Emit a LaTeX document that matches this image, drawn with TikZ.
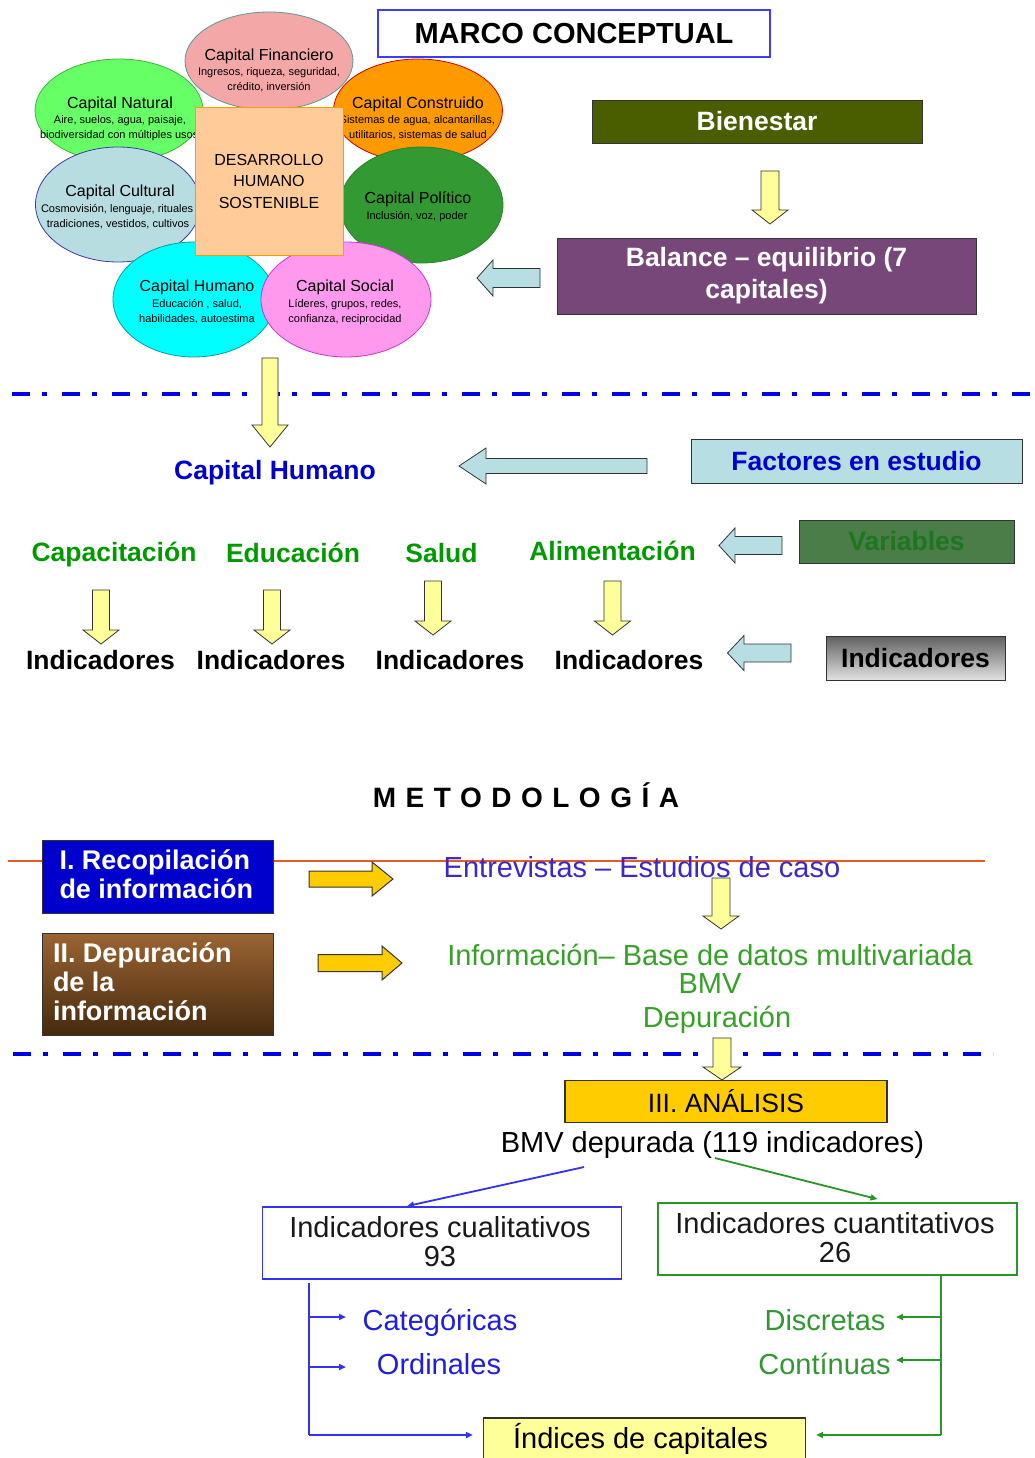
\documentclass[tikz,border=0pt]{standalone}
\usepackage{fontspec}
\setmainfont{Liberation Sans}
\newfontfamily\metofont[LetterSpace=34]{Liberation Sans}
\usetikzlibrary{shapes.geometric,arrows.meta}
\newcommand{\fsz}[2]{\fontsize{#1}{#2}\selectfont}
% block arrows
\newcommand{\blkdown}[7]{\draw[#1] ({#2-#5},#3) -- ({#2+#5},#3) -- ({#2+#5},{#4-#7}) -- ({#2+#6},{#4-#7}) -- (#2,#4) -- ({#2-#6},{#4-#7}) -- ({#2-#5},{#4-#7}) -- cycle;}
\newcommand{\blkleft}[7]{\draw[#1] (#2,#4) -- ({#2+#7},{#4-#6}) -- ({#2+#7},{#4-#5}) -- (#3,{#4-#5}) -- (#3,{#4+#5}) -- ({#2+#7},{#4+#5}) -- ({#2+#7},{#4+#6}) -- cycle;}
\newcommand{\blkright}[7]{\draw[#1] (#2,{#4-#5}) -- ({#3-#7},{#4-#5}) -- ({#3-#7},{#4-#6}) -- (#3,#4) -- ({#3-#7},{#4+#6}) -- ({#3-#7},{#4+#5}) -- (#2,{#4+#5}) -- cycle;}
\definecolor{finF}{RGB}{244,167,167}\definecolor{finD}{RGB}{90,150,150}
\definecolor{natF}{RGB}{102,255,102}\definecolor{natD}{RGB}{60,180,60}
\definecolor{conF}{RGB}{255,153,0}\definecolor{conD}{RGB}{204,0,0}
\definecolor{culF}{RGB}{183,221,225}\definecolor{culD}{RGB}{60,60,160}
\definecolor{polF}{RGB}{51,153,51}\definecolor{polD}{RGB}{40,130,40}
\definecolor{humF}{RGB}{0,255,255}\definecolor{humD}{RGB}{0,160,170}
\definecolor{socF}{RGB}{255,153,238}\definecolor{socD}{RGB}{204,51,204}
\definecolor{sqF}{RGB}{255,204,153}\definecolor{sqD}{RGB}{255,153,0}
\definecolor{titleD}{RGB}{60,60,255}
\definecolor{bienF}{RGB}{74,94,0}
\definecolor{balF}{RGB}{119,71,122}
\definecolor{lblue}{RGB}{183,222,227}
\definecolor{yel}{RGB}{255,255,153}
\definecolor{gold}{RGB}{255,204,0}
\definecolor{hblue}{RGB}{0,0,204}
\definecolor{vgreen}{RGB}{0,153,0}
\definecolor{varF}{RGB}{75,125,72}\definecolor{varT}{RGB}{30,118,30}
\definecolor{entB}{RGB}{60,40,200}
\definecolor{infG}{RGB}{55,160,40}
\definecolor{catB}{RGB}{30,30,220}
\definecolor{disG}{RGB}{50,150,50}
\definecolor{rline}{RGB}{230,90,40}
\definecolor{dblue}{RGB}{0,0,230}
\definecolor{boxIF}{RGB}{0,0,204}
\definecolor{brownT}{RGB}{155,100,50}\definecolor{brownB}{RGB}{70,42,15}
\definecolor{grT}{RGB}{96,96,96}\definecolor{grM}{RGB}{92,92,92}\definecolor{grB}{RGB}{225,225,225}
\definecolor{lineB}{RGB}{50,50,240}\definecolor{lineG}{RGB}{40,150,40}
\tikzset{
 txt/.style={inner sep=0, outer sep=0},
 ell/.style={ellipse, inner sep=0, line width=0.8},
 ttl/.style={font=\fsz{16}{18}},
 subt/.style={font=\fsz{11}{15}, align=center},
 yarrow/.style={fill=yel, draw=black!80, line width=0.8},
 garrow/.style={fill=gold, draw=black!80, line width=1},
 barrow/.style={fill=lblue, draw=black!80, line width=0.8},
 hbold/.style={font=\fsz{26.5}{30}\bfseries},
 lowtxt/.style={font=\fsz{29}{29}},
 dashline/.style={draw=dblue, line width=4, dash pattern=on 18pt off 12pt on 5pt off 15pt},
 bline/.style={draw=lineB, line width=1.8},
 gline/.style={draw=lineG, line width=1.8},
 tip/.style={-{Triangle[length=7pt,width=6pt]}},
}
\begin{document}
\begin{tikzpicture}[x=1pt,y=-1pt]
\useasboundingbox (0,0) rectangle (1034,1458);
\clip (0,0) rectangle (1034,1458);
\fill[white] (0,0) rectangle (1034,1458);

% ---------- ellipses ----------
\node[ell, fill=finF, draw=finD, minimum width=168, minimum height=98] (fin) at (269,61) {};
\node[txt, ttl, anchor=base] (finT) at (269,60.5) {Capital Financiero};
\node[txt, subt, anchor=base] (finS) at (269,91) {Ingresos, riqueza, seguridad,\\crédito, inversión};

\node[ell, fill=natF, draw=natD, minimum width=168, minimum height=103] (nat) at (119,110.5) {};
\node[txt, ttl, anchor=base] (natT) at (120,108.5) {Capital Natural};
\node[txt, subt, anchor=base] (natS1) at (120,124) {Aire, suelos, agua, paisaje,};
\node[txt, subt, anchor=base west] (natS2) at (40,139) {biodiversidad con múltiples usos};

\node[ell, fill=conF, draw=conD, minimum width=169, minimum height=103] (con) at (418,110.5) {};
\node[txt, ttl, anchor=base] (conT) at (418,108.5) {Capital Construido};
\node[txt, subt, anchor=base east] (conS1) at (495,124) {Sistemas de agua, alcantarillas,};
\node[txt, subt, anchor=base] (conS2) at (418,139) {utilitarios, sistemas de salud};

\node[ell, fill=culF, draw=culD, minimum width=165, minimum height=115] (cul) at (118,204.5) {};
\node[txt, ttl, anchor=base] (culT) at (120,196.5) {Capital Cultural};
\node[txt, subt, anchor=base west] (culS1) at (41,212) {Cosmovisión, lenguaje, rituales};
\node[txt, subt, anchor=base] (culS2) at (118,227) {tradiciones, vestidos, cultivos};

\node[ell, fill=polF, draw=polD, minimum width=163, minimum height=116] (pol) at (421.5,205) {};
\node[txt, ttl, anchor=base] (polT) at (418,203.5) {Capital Político};
\node[txt, subt, anchor=base] (polS) at (417,219) {Inclusión, voz, poder};

\node[ell, fill=humF, draw=humD, minimum width=162, minimum height=115] (hum) at (194,299.5) {};
\node[txt, ttl, anchor=base] (humT) at (197,291.5) {Capital Humano};
\node[txt, subt, anchor=base] (humS) at (197,322) {Educación , salud,\\habilidades, autoestima};

\node[ell, fill=socF, draw=socD, minimum width=170, minimum height=115] (soc) at (346,299.5) {};
\node[txt, ttl, anchor=base] (socT) at (345,291.5) {Capital Social};
\node[txt, subt, anchor=base] (socS) at (345,322) {Líderes, grupos, redes,\\confianza, reciprocidad};

\node[draw=sqD, fill=sqF, line width=0.8, minimum width=148, minimum height=148, align=center, font=\fsz{16}{21.5}] (dhs) at (269,181) {DESARROLLO\\HUMANO\\SOSTENIBLE};

% ---------- right top ----------
\node[draw=titleD, fill=white, line width=1.2, minimum width=392, minimum height=47, font=\fsz{29}{30}\bfseries] (mc) at (574,33.5) {MARCO CONCEPTUAL};
\node[draw=black!80, fill=bienF, text=white, minimum width=330, minimum height=43, hbold] (bien) at (757,121.5) {Bienestar};
\blkdown{yarrow}{770}{171}{224}{9}{18}{14}
\node[draw=black!80, fill=balF, text=white, minimum width=419, minimum height=76, align=center, font=\fsz{26.5}{32}\bfseries] (bal) at (766.5,276) {Balance – equilibrio (7\\capitales)};
\blkleft{barrow}{477}{540}{278}{9.5}{18}{16}

% ---------- separator 1 ----------
\draw[dashline] (12,393.5) -- (1034,393.5);
\blkdown{yarrow}{270}{358}{447}{8}{18}{22}

% ---------- factors ----------
\node[txt, hbold, text=hblue, anchor=base] (chum) at (275,479.5) {Capital Humano};
\blkleft{barrow}{459}{647}{466}{7.5}{18}{27}
\node[draw=black!80, fill=lblue, text=hblue, minimum width=331, minimum height=44, hbold] (fac) at (856.5,461) {Factores en estudio};

\node[txt, hbold, text=vgreen, anchor=base] (capa) at (114,561) {Capacitación};
\node[txt, hbold, text=vgreen, anchor=base] (edu) at (293,562) {Educación};
\node[txt, hbold, text=vgreen, anchor=base] (sal) at (441.5,562) {Salud};
\node[txt, hbold, text=vgreen, anchor=base] (ali) at (612.5,560.5) {Alimentación};
\blkleft{barrow}{719}{782}{545.5}{9}{17.5}{16}
\node[draw=black!80, fill=varF, text=varT, minimum width=215, minimum height=43, hbold] (var) at (906.5,541.5) {Variables};

\blkdown{yarrow}{101}{590}{644}{8.5}{18}{14}
\blkdown{yarrow}{272}{590}{644}{8.5}{18}{14}
\blkdown{yarrow}{433}{581}{635}{8.5}{18}{14}
\blkdown{yarrow}{612.5}{581}{635}{8.5}{18}{14}

\node[txt, hbold, anchor=base] (ind1) at (100.5,669.5) {Indicadores};
\node[txt, hbold, anchor=base] (ind2) at (271,669.5) {Indicadores};
\node[txt, hbold, anchor=base] (ind3) at (450,669.5) {Indicadores};
\node[txt, hbold, anchor=base] (ind4) at (629,669.5) {Indicadores};
\blkleft{barrow}{727.5}{791}{653}{9}{17.5}{16.5}
\node[draw=black!80, top color=grT, middle color=grM, bottom color=grB, minimum width=179, minimum height=44, hbold] (indb) at (915.5,658) {Indicadores};

% ---------- methodology ----------
\node[txt, font=\fsz{28}{30}\metofont\bfseries, anchor=base] (meto) at (526,807.5) {METODOLOGÍA};

\draw[draw=rline, line width=1.5] (8,861) -- (985,861);
\node[draw=black!80, fill=boxIF, line width=1, minimum width=231, minimum height=73] (b1) at (158,876.5) {};
\node[txt, text=white, font=\fsz{27}{29}\bfseries, align=left, anchor=base west] (b1T) at (59.5,898.5) {I. Recopilación\\de información};
\blkright{garrow}{309}{393}{879}{8}{17}{21}
\node[txt, lowtxt, text=entB, anchor=base] (ent) at (642,877) {Entrevistas – Estudios de caso};
\blkdown{yarrow}{721}{878}{929}{9}{18}{13}

\node[draw=black!80, top color=brownT, bottom color=brownB, line width=1, minimum width=231, minimum height=102] (b2) at (158,984) {};
\node[txt, text=white, font=\fsz{27}{29.2}\bfseries, align=left, anchor=base west] (b2T) at (53,1020.4) {II. Depuración\\de la\\información};
\blkright{garrow}{318}{402}{963}{8.5}{17}{20}
\node[txt, lowtxt, text=infG, anchor=base] (inf) at (710,965) {Información– Base de datos multivariada};
\node[txt, lowtxt, text=infG, anchor=base] (bmvA) at (710,993.5) {BMV};
\node[txt, lowtxt, text=infG, anchor=base] (dep) at (717,1027.5) {Depuración};

% ---------- separator 2 ----------
\draw[dashline] (13,1054) -- (993,1054);
\blkdown{yarrow}{722}{1038}{1080}{9}{19}{13}

% ---------- analysis ----------
\node[draw=black!80, fill=gold, line width=1.2, minimum width=322, minimum height=42, font=\fsz{26.5}{28}] (ana) at (726,1101.5) {III. ANÁLISIS};
\node[txt, lowtxt, anchor=base] (bmv) at (712.5,1152) {BMV depurada (119 indicadores)};

\node[draw=lineB, line width=1.8, minimum width=359, minimum height=72] (cuali) at (442,1243) {};
\node[txt, lowtxt, text=black!90, align=center, anchor=base] (cualiT) at (440,1266) {Indicadores cualitativos\\93};
\node[draw=lineG, line width=1.8, minimum width=359, minimum height=72] (cuanti) at (837.5,1239) {};
\node[txt, lowtxt, text=black!90, align=center, anchor=base] (cuantiT) at (835,1262.5) {Indicadores cuantitativos\\26};

\draw[bline, tip] ([xshift=-128.5pt, yshift=-9pt]bmv.south) -- ([xshift=-35pt]cuali.north);
\draw[gline, tip] ([xshift=2.5pt]bmv.south) -- ([xshift=40pt, yshift=3pt]cuanti.north);

\node[txt, lowtxt, text=catB, anchor=base] (cat) at (440,1330) {Categóricas};
\node[txt, lowtxt, text=catB, anchor=base] (ord) at (439,1374.5) {Ordinales};
\node[txt, lowtxt, text=disG, anchor=base] (dis) at (825,1330) {Discretas};
\node[txt, lowtxt, text=disG, anchor=base] (cont) at (824.5,1374) {Contínuas};

\node[draw=black!80, fill=yel, line width=1.2, minimum width=322, minimum height=52] (idx) at (644.5,1444) {};
\node[txt, lowtxt, anchor=base] (idxT) at (640.5,1448.5) {Índices de capitales};

\coordinate (qa) at (309,1283);
\coordinate (qb) at (309,1435);
\coordinate (qc) at (309,1317);
\coordinate (qd) at (309,1367);
\coordinate (qce) at (346,1317);
\coordinate (qde) at (346,1367);
\draw[bline] (qa) -- (qb);
\draw[bline, tip] (qc) -- (qce);
\draw[bline, tip] (qd) -- (qde);
\draw[bline, tip] (qb) -- ([xshift=-10pt, yshift=9pt]idx.west);

\coordinate (ga) at (941,1275);
\coordinate (gb) at (941,1435);
\coordinate (gc) at (941,1317);
\coordinate (gd) at (941,1360);
\coordinate (gce) at (896,1317);
\coordinate (gde) at (896,1360);
\draw[gline] (ga) -- (gb);
\draw[gline, tip] (gc) -- (gce);
\draw[gline, tip] (gd) -- (gde);
\draw[gline, tip] (gb) -- ([xshift=10pt, yshift=9pt]idx.east);
\end{tikzpicture}
\end{document}
